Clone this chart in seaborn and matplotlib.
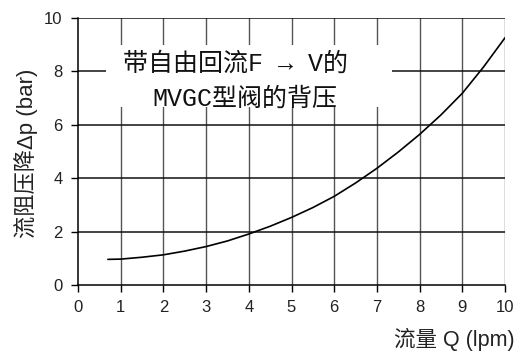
import matplotlib
matplotlib.use("Agg")
import matplotlib.pyplot as plt
from matplotlib.patches import Rectangle
import seaborn as sns
import pandas as pd

# Flow rate (lpm) and back-pressure drop (bar) along the curve
flow_lpm = [0.7, 1.0, 1.5, 2.0, 2.5, 3.0, 3.5, 4.0, 4.5, 5.0, 5.5,
            6.0, 6.5, 7.0, 7.5, 8.0, 8.5, 9.0, 9.5, 10.0]
pressure_bar = [0.96, 0.97, 1.04, 1.13, 1.27, 1.44, 1.65, 1.91, 2.20, 2.53, 2.90,
                3.32, 3.82, 4.37, 4.98, 5.64, 6.37, 7.18, 8.17, 9.26]

x_ticks = [0, 1, 2, 3, 4, 5, 6, 7, 8, 9, 10]
y_ticks = [0, 2, 4, 6, 8, 10]

title_lines = ["带自由回流F → V的", "MVGC型阀的背压"]
x_label = "流量 Q (lpm)"
y_label = "流阻压降Δp (bar)"

sns.set_theme(style="white")
plt.rcParams["font.family"] = ["Liberation Sans", "Noto Sans CJK SC", "DejaVu Sans"]
plt.rcParams["axes.unicode_minus"] = False

df = pd.DataFrame({"Q": flow_lpm, "dp": pressure_bar})

fig = plt.figure(figsize=(5.14, 3.52), dpi=100)
ax = fig.add_axes([78 / 514, (352 - 285) / 352, 427 / 514, 267 / 352])

sns.lineplot(data=df, x="Q", y="dp", ax=ax, color="black", linewidth=1.2, zorder=4)

ax.set_xlim(0, 10)
ax.set_ylim(0, 10)
ax.set_xticks(x_ticks)
ax.set_yticks(y_ticks)
ax.set_xticklabels([str(t) for t in x_ticks])
ax.set_yticklabels([str(t) for t in y_ticks])

# Grid: vertical lines slightly lighter than the horizontal ones
for xv in x_ticks[1:]:
    ax.axvline(xv, color="#555555", linewidth=1.0, zorder=1)
for yv in y_ticks[1:]:
    ax.axhline(yv, color="#111111", linewidth=1.1, zorder=1)

for side in ["top", "right"]:
    ax.spines[side].set_visible(False)
for side in ["left", "bottom"]:
    ax.spines[side].set_color("black")
    ax.spines[side].set_linewidth(1.1)

ax.tick_params(axis="both", which="major", direction="out", length=5, width=1,
               color="black", labelsize=12, labelcolor="#222222", pad=6,
               bottom=True, left=True)

ax.set_xlabel(x_label, fontsize=15.5, color="#222222", loc="right", fontweight="light")
ax.xaxis.set_label_coords(1.022, -0.205)
ax.xaxis.label.set_verticalalignment("center")
ax.set_ylabel(y_label, fontsize=16, color="#222222", fontweight="light")
ax.yaxis.set_label_coords(-0.122, 0.4925)
ax.yaxis.label.set_verticalalignment("center")

# White panel carrying the chart title inside the plot area
ax.add_patch(Rectangle((0.656, 6.67), 7.35 - 0.656, 8.99 - 6.67,
                       facecolor="white", edgecolor="none", zorder=3))
title_font = ["Liberation Mono", "Noto Sans CJK SC", "DejaVu Sans"]
ax.text(3.69, 8.28, title_lines[0], family=title_font, fontsize=18,
        fontweight="light", ha="center", va="center", color="#111111", zorder=5)
ax.text(3.90, 6.98, title_lines[1], family=title_font, fontsize=18,
        fontweight="light", ha="center", va="center", color="#111111", zorder=5)

fig.savefig("out.png", dpi=100)
